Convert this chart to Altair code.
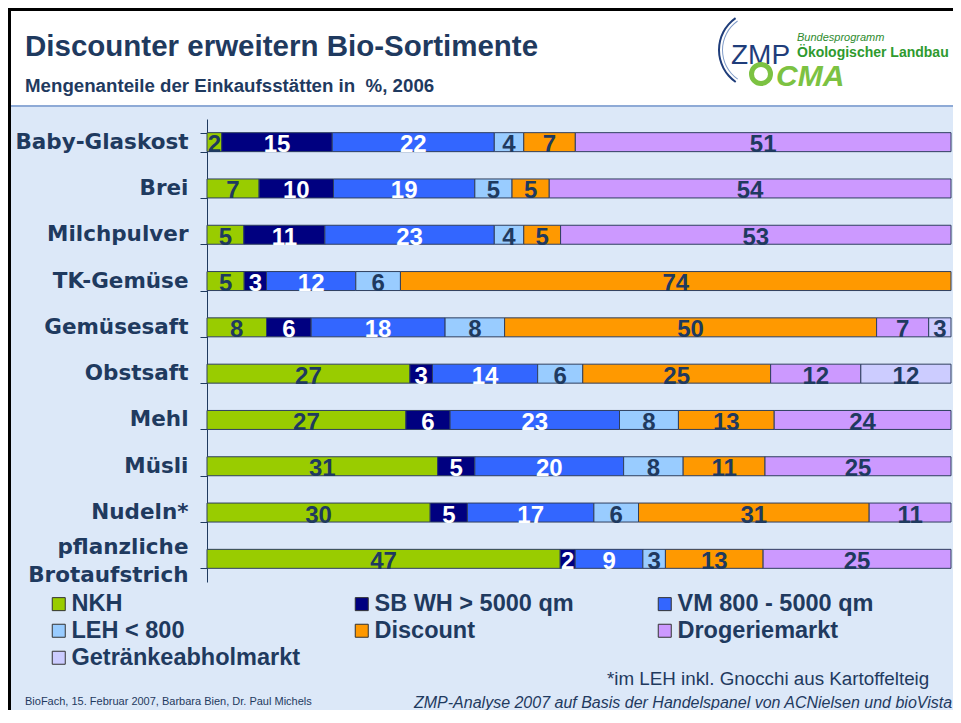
import altair as alt
import pandas as pd

categories = ["Baby-Glaskost", "Brei", "Milchpulver", "TK-Gemüse", "Gemüsesaft",
              "Obstsaft", "Mehl", "Müsli", "Nudeln*", "pflanzliche Brotaufstrich"]
series = ["NKH", "SB WH > 5000 qm", "VM 800 - 5000 qm", "LEH < 800",
          "Discount", "Drogeriemarkt", "Getränkeabholmarkt"]
colors = ["#99cc00", "#000080", "#3366ff", "#99ccff", "#ff9900", "#cc99ff", "#ccccff"]

nkh = [2, 7, 5, 5, 8, 27, 27, 31, 30, 47]
sbwh = [15, 10, 11, 3, 6, 3, 6, 5, 5, 2]
vm = [22, 19, 23, 12, 18, 14, 23, 20, 17, 9]
leh = [4, 5, 4, 6, 8, 6, 8, 8, 6, 3]
discount = [7, 5, 5, 74, 50, 25, 13, 11, 31, 13]
drogerie = [51, 54, 53, 0, 7, 12, 24, 25, 11, 25]
getraenke = [0, 0, 0, 0, 3, 12, 0, 0, 0, 0]

all_series = [nkh, sbwh, vm, leh, discount, drogerie, getraenke]
rows = []
for si, (name, vals) in enumerate(zip(series, all_series)):
    for ci, cat in enumerate(categories):
        if vals[ci] > 0:
            rows.append({"cat": cat, "series": name, "order": si, "value": vals[ci]})
df = pd.DataFrame(rows)

NAVY = "#1f3a5f"
SANS = "Liberation Sans, Arial, sans-serif"
OX, OY = 207, 119  # page position of plot origin
W, H = 744, 463
TOTAL_W, TOTAL_H = 945, 702
RIGHT = 8 + TOTAL_W

ysc = alt.Scale(paddingInner=0.59, paddingOuter=0.295)

base = alt.Chart(df).transform_stack(
    stack="value", groupby=["cat"], as_=["v0", "v1"], offset="normalize",
    sort=[alt.SortField("order", order="ascending")]
)

bars = base.mark_bar(stroke="#2f3f5f", strokeWidth=1).encode(
    y=alt.Y("cat:N", sort=categories, scale=ysc, title=None,
            axis=alt.Axis(labelFont="DejaVu Sans", labelFontWeight="bold", labelFontSize=21.5,
                          labelColor=NAVY, domainColor=NAVY, tickColor=NAVY, tickSize=7,
                          tickBand="extent", labelPadding=12, labelLimit=400,
                          labelLineHeight=28,
                          labelOffset={"condition": {"test": "datum.label == 'pflanzliche Brotaufstrich'",
                                                     "value": -11}, "value": 0},
                          labelExpr="datum.label == 'pflanzliche Brotaufstrich' ? ['pflanzliche', 'Brotaufstrich'] : datum.label")),
    x=alt.X("v0:Q", scale=alt.Scale(domain=[0, 1]), axis=None),
    x2="v1:Q",
    color=alt.Color("series:N", scale=alt.Scale(domain=series, range=colors),
                    legend=alt.Legend(orient="none", legendX=47 - OX, legendY=592 - OY,
                                      direction="horizontal", columns=3, title=None,
                                      symbolType="square", symbolSize=169,
                                      symbolStrokeColor="#333333", symbolStrokeWidth=1,
                                      labelFont=SANS, labelFontSize=23.5, labelFontWeight="bold",
                                      labelColor=NAVY, gridAlign="all", columnPadding=49,
                                      rowPadding=2, labelLimit=400, labelOffset=1,
                                      padding=0)),
)

labels = base.transform_calculate(
    mid="(datum.v0 + datum.v1) / 2",
    tc="indexof(['SB WH > 5000 qm', 'VM 800 - 5000 qm'], datum.series) >= 0 ? 'white' : '" + NAVY + "'",
).mark_text(font=SANS, fontSize=24, fontWeight="bold", baseline="alphabetic", dy=10).encode(
    y=alt.Y("cat:N", sort=categories, scale=ysc),
    x=alt.X("mid:Q"),
    text=alt.Text("value:Q"),
    color=alt.Color("tc:N", scale=None),
)

one = pd.DataFrame({"t": ["x"]})


def rect(x1, y1, x2, y2, color):
    return alt.Chart(one).mark_rect(color=color).encode(
        x=alt.value(x1 - OX), x2=alt.value(x2 - OX), y=alt.value(y1 - OY), y2=alt.value(y2 - OY))


def txt(s, x, y, size, color=NAVY, font=SANS, weight="normal", style="normal", align="left"):
    return alt.Chart(pd.DataFrame({"t": [s]})).mark_text(
        align=align, baseline="alphabetic", fontSize=size, font=font, fontWeight=weight,
        fontStyle=style, color=color).encode(
        x=alt.value(x - OX), y=alt.value(y - OY), text="t:N")


def arc(cx, cy, r1, r2, t1, t2, color):
    return alt.Chart(one).mark_arc(theta=t1, theta2=t2, radius=r1, radius2=r2, color=color).encode(
        x=alt.value(cx - OX), y=alt.value(cy - OY))


decor = [
    rect(8, 8, RIGHT, 106, "white"),
    rect(8, 105, RIGHT, 107, "#8eaad6"),
    rect(8, 8, RIGHT, 11, "black"),
    rect(8, 8, 11, 8 + TOTAL_H, "black"),
    txt("Discounter erweitern Bio-Sortimente", 25, 56, 29.5, weight="bold"),
    txt("Mengenanteile der Einkaufsstätten in\u00a0 %, 2006", 25, 92, 18.7, weight="bold"),
    arc(758, 50, 40, 38, 3.75, 5.67, "#1f3d7a"),
    arc(758, 50, 36, 35, 3.75, 5.67, "#7f9bc8"),
    txt("ZMP", 731, 64, 28, color="#1f3d7a"),
    txt("Bundesprogramm", 797, 41, 11, color="#2e8b2e", style="italic"),
    txt("Ökologischer Landbau", 797, 57, 14, color="#2e9a2e", weight="bold"),
    arc(761, 74, 12, 7, 0, 6.2832, "#7cc242"),
    txt("CMA", 776, 86, 30, color="#7cc242", weight="bold", style="italic"),
    txt("*im LEH inkl. Gnocchi aus Kartoffelteig", 607, 685, 18.8),
    txt("BioFach, 15. Februar 2007, Barbara Bien, Dr. Paul Michels", 25, 705, 11),
    txt("ZMP-Analyse 2007 auf Basis der Handelspanel von ACNielsen und bioVista", 414, 708, 16,
        style="italic"),
]

chart = alt.layer(*decor, bars, labels).properties(
    width=W, height=H,
    padding={"left": OX - 8, "top": OY - 8, "right": TOTAL_W - (OX - 8) - W,
             "bottom": TOTAL_H - (OY - 8) - H},
    autosize=alt.AutoSizeParams(type="none"),
    background="#dce8f8",
).configure_view(stroke=None)

chart.save("out.html", embed_options={"renderer": "svg", "actions": False})
